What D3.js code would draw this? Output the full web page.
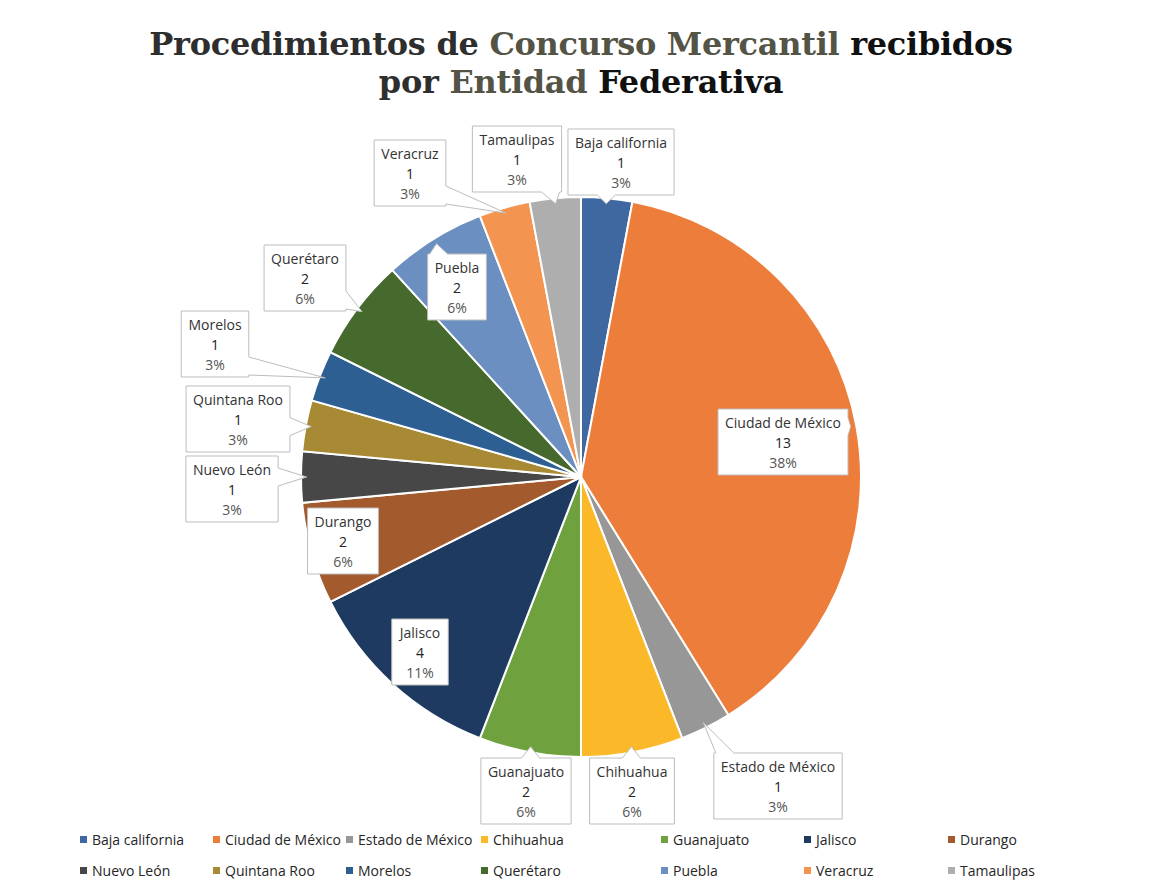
<!DOCTYPE html>
<html>
    <head>
        <title>Concurso Mercantil</title>
        <script src="https://d3js.org/d3.v7.min.js"></script>
        <style>
            body { margin: 0; background: #fff; }
            text { font-family: "Open Sans", sans-serif; }
        </style>
    </head>
    <body>
        <script type="text/javascript">
            // datos
            const estados = ['Baja california', 'Ciudad de México', 'Estado de México', 'Chihuahua', 'Guanajuato',
                'Jalisco', 'Durango', 'Nuevo León', 'Quintana Roo', 'Morelos', 'Querétaro', 'Puebla', 'Veracruz', 'Tamaulipas'];
            const procedimientos = [1, 13, 1, 2, 2, 4, 2, 1, 1, 1, 2, 2, 1, 1];
            const porcentajes = ['3%', '38%', '3%', '6%', '6%', '11%', '6%', '3%', '3%', '3%', '6%', '6%', '3%', '3%'];

            const colores = ['#3f67a0', '#ec7d3a', '#979797', '#fbb92a', '#6fa23e', '#1f3a61', '#a35a2c',
                '#474747', '#a88a35', '#2e5f93', '#466a2d', '#6b8fc0', '#f39550', '#aeaeae'];

            // posicion de las etiquetas respecto al centro
            const etiquetaPos = [[40,-315],[202,-35],[197,309],[51,314],[-55,314],[-161,175],[-238,64],
                [-349,12],[-343,-58],[-366,-133],[-276,-199],[-124,-190],[-171,-304],[-64,-318]];

            // legenda: columnas y filas
            const legendaX = [84, 217, 350, 485, 665, 808, 952];
            const legendaY = [840, 871];

            const width = 1151, height = 892;
            const cx = 581, cy = 477, r = 280;

            const svg = d3.select('body').append('svg').attr('width', width).attr('height', height);

            // titulo (dos lineas)
            const lineasTitulo = [
                [['Procedimientos de ', '#2e2e2e'], ['Concurso Mercantil ', '#545446'], ['recibidos', '#111']],
                [['por ', '#2e2e2e'], ['Entidad ', '#545446'], ['Federativa', '#111']]
            ];
            lineasTitulo.forEach((partes, k) => {
                const t = svg.append('text')
                    .attr('x', 581).attr('y', 55 + k * 38)
                    .attr('text-anchor', 'middle')
                    .style('font-family', '"DejaVu Serif", serif')
                    .style('font-weight', 'bold')
                    .style('font-size', '32px')
                    .style('letter-spacing', '-0.3px');
                partes.forEach(p => t.append('tspan').attr('fill', p[1]).text(p[0]));
            });

            const datos = estados.map((e, i) => ({estado: e, valor: procedimientos[i], pct: porcentajes[i], i}));

            const pie = d3.pie().sort(null).value(d => d.valor);
            const arc = d3.arc().innerRadius(0).outerRadius(r);
            const arcos = pie(datos);

            const g = svg.append('g').attr('transform', `translate(${cx},${cy})`);

            g.selectAll('path.slice')
                .data(arcos)
                .join('path')
                .attr('class', 'slice')
                .attr('d', arc)
                .attr('fill', d => colores[d.data.i])
                .attr('stroke', '#fff')
                .attr('stroke-width', 2);

            // etiquetas tipo globo
            function globo(x0, y0, w, h, ax, ay) {
                const x1 = x0 + w, y1 = y0 + h, hw = 9;
                const dx = ax < x0 ? x0 - ax : (ax > x1 ? ax - x1 : 0);
                const dy = ay < y0 ? y0 - ay : (ay > y1 ? ay - y1 : 0);
                if (dx === 0 && dy === 0) return `M${x0},${y0}H${x1}V${y1}H${x0}Z`;
                if (dy >= dx) {
                    const bx = Math.max(x0 + hw + 2, Math.min(x1 - hw - 2, ax));
                    if (ay < y0) return `M${x0},${y0}H${bx - hw}L${ax},${ay}L${bx + hw},${y0}H${x1}V${y1}H${x0}Z`;
                    return `M${x0},${y0}H${x1}V${y1}H${bx + hw}L${ax},${ay}L${bx - hw},${y1}H${x0}Z`;
                }
                const by = Math.max(y0 + hw + 2, Math.min(y1 - hw - 2, ay));
                if (ax < x0) return `M${x0},${y0}H${x1}V${y1}H${x0}V${by + hw}L${ax},${ay}L${x0},${by - hw}Z`;
                return `M${x0},${y0}H${x1}V${by - hw}L${ax},${ay}L${x1},${by + hw}V${y1}H${x0}Z`;
            }

            const etiquetas = g.selectAll('g.etiqueta')
                .data(arcos)
                .join('g')
                .attr('class', 'etiqueta');

            etiquetas.each(function(d) {
                const el = d3.select(this);
                const [ex, ey] = etiquetaPos[d.data.i];
                const forma = el.append('path')
                    .attr('fill', '#fff')
                    .attr('stroke', '#bdbdbd')
                    .attr('stroke-width', 1);
                const txt = el.append('text')
                    .attr('text-anchor', 'middle')
                    .style('font-size', '14px');
                const lineas = [[d.data.estado, '#333'], [d.data.valor, '#222'], [d.data.pct, '#555']];
                lineas.forEach((l, k) => {
                    txt.append('tspan')
                        .attr('x', ex)
                        .attr('y', ey - 14 + k * 20)
                        .attr('fill', l[1])
                        .text(l[0]);
                });
                const w = txt.node().getBBox().width + 14, h = 66;
                const mid = (d.startAngle + d.endAngle) / 2;
                const ax = Math.sin(mid) * r * 0.98, ay = -Math.cos(mid) * r * 0.98;
                forma.attr('d', globo(ex - w / 2, ey - h / 2, w, h, ax, ay));
            });

            // legenda
            const legenda = svg.append('g');
            datos.forEach((d, i) => {
                const x = legendaX[i % 7], y = legendaY[Math.floor(i / 7)];
                legenda.append('rect')
                    .attr('x', x - 4).attr('y', y - 4)
                    .attr('width', 7).attr('height', 7)
                    .attr('fill', colores[i]);
                legenda.append('text')
                    .attr('x', x + 8).attr('y', y + 5)
                    .attr('fill', '#262626')
                    .style('font-size', '14px')
                    .text(d.estado);
            });
        </script>
    </body>
</html>
